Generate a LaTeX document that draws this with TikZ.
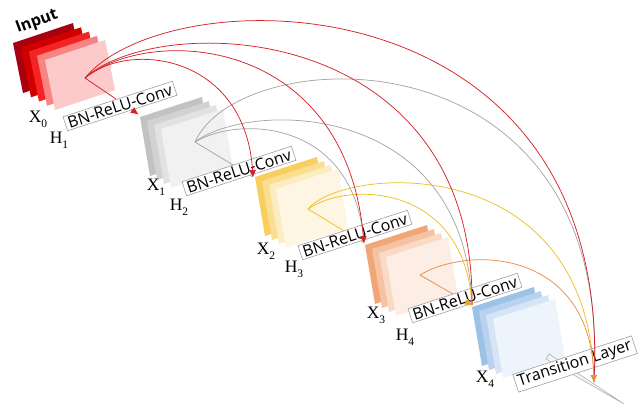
\documentclass[tikz,border=0pt]{standalone}
\usepackage{fontspec}
\setmainfont{Liberation Serif}
\newfontfamily\labelfont{Open Sans}
\usetikzlibrary{arrows.meta,calc}

% layer colours, back to front
\definecolor{rA}{HTML}{A8000E}
\definecolor{rB}{HTML}{D00000}
\definecolor{rC}{HTML}{F42424}
\definecolor{rD}{HTML}{F88484}
\definecolor{rE}{HTML}{FCCACA}
\definecolor{gA}{HTML}{C2C2C2}
\definecolor{gB}{HTML}{D2D2D2}
\definecolor{gC}{HTML}{E2E2E2}
\definecolor{gD}{HTML}{F1F1F1}
\definecolor{yA}{HTML}{F8CE5C}
\definecolor{yB}{HTML}{FADF92}
\definecolor{yC}{HTML}{FCECC2}
\definecolor{yD}{HTML}{FEF6E2}
\definecolor{oA}{HTML}{F0A676}
\definecolor{oB}{HTML}{F5C2A2}
\definecolor{oC}{HTML}{F9DAC6}
\definecolor{oD}{HTML}{FCEEE5}
\definecolor{bA}{HTML}{9CC2E8}
\definecolor{bB}{HTML}{B9D3EF}
\definecolor{bC}{HTML}{D5E5F6}
\definecolor{bD}{HTML}{EEF4FB}
% connector colours
\definecolor{cRed}{HTML}{D42228}
\definecolor{cGray}{HTML}{A6A6A6}
\definecolor{cYel}{HTML}{F0C020}
\definecolor{cOra}{HTML}{E88C48}
\definecolor{cTip}{HTML}{F5A020}

% a stack of sheared sheets: back corner (#1,#2), step (#3,#4),
% top edge (#5,#6), side edge (#7,#8), colours #9
\newcommand{\stackblock}[9]{%
  \foreach \c [count=\i from 0] in {#9} {
    \fill[\c] ({#1+\i*#3},{#2+\i*#4}) -- ++(#5,#6) -- ++(#7,#8)
      -- ++({-#5},{-#6}) -- cycle;
  }}

\tikzset{
  link/.style={line width=0.75pt},
  tipend/.style={-{Triangle[length=7pt,width=6.5pt]}},
  oplabel/.style={draw=gray!75, line width=0.6pt, fill=white, rotate=18,
    inner xsep=3pt, inner ysep=1.5pt, font=\labelfont\fontsize{16}{16}\selectfont},
  mapname/.style={font=\fontsize{17.5}{17.5}\selectfont, inner sep=0pt}
}

\newcommand{\mname}[2]{#1\raisebox{-5pt}{\fontsize{11.5}{11.5}\selectfont #2}}

\begin{document}
\begin{tikzpicture}[x=1pt,y=-1pt]
\useasboundingbox (0,0) rectangle (642,408);

% feature-map stacks
\stackblock{13}{43}{8}{4.25}{60}{-20}{10}{50}{rA,rB,rC,rD,rE}
\stackblock{140}{117}{7}{4}{62}{-20}{10}{59}{gA,gB,gC,gD}
\stackblock{255}{177}{7}{4}{62}{-20}{10}{59}{yA,yB,yC,yD}
\stackblock{365}{245}{7}{4}{62}{-20}{10}{59}{oA,oB,oC,oD}
\stackblock{472}{307}{7}{4}{62}{-20}{10}{59}{bA,bB,bC,bD}

% connection points
\coordinate (S0) at (85,78);
\coordinate (S1) at (195,142);
\coordinate (S2) at (308,209);
\coordinate (S3) at (420,275);
\coordinate (B1) at (138,114);
\coordinate (B2) at (253,177);
\coordinate (B3) at (364,243);
\coordinate (B4) at (472,305);
\coordinate (T) at (594,382);

% transition layer seen edge-on
\filldraw[draw=gray!70, fill=gray!8, line width=0.5pt]
  (549,354) -- (624,404) -- (546,359) -- cycle;

% direct links to the next stack
\draw[link, cRed] (S0) -- (B1);
\draw[link, cGray] (S1) -- (B2);
\draw[link, cYel] (S2) -- (B3);
\draw[link, cOra] (S3) -- (B4);

% operation labels
\node[oplabel] (L1) at (120,106) {BN-ReLU-Conv};
\node[oplabel] (L2) at (239,171) {BN-ReLU-Conv};
\node[oplabel] (L3) at (355,235) {BN-ReLU-Conv};
\node[oplabel] (L4) at (465,298) {BN-ReLU-Conv};
\node[oplabel] (L5) at (575,364) {Transition Layer};

% dense skip connections
\draw[link, cGray] (S1) .. controls (240,115) and (355,120) .. (B3);
\draw[link, cGray] (S1) .. controls (250,100) and (465,100) .. (B4);
\draw[link, cGray] (S1) .. controls (240,40) and (615,25) .. (T);
\draw[link, cYel] (S2) .. controls (350,180) and (465,185) .. (B4);
\draw[link, cYel] (S2) .. controls (345,165) and (590,150) .. (T);
\draw[link, cRed] (S0) .. controls (160,10) and (475,20) .. (B4);
\draw[link, cRed] (S0) .. controls (170,-25) and (615,-25) .. (T);
\draw[link, cRed, tipend] (S0) .. controls (130,40) and (245,55) .. (B2);
\draw[link, cRed, tipend] (S0) .. controls (150,25) and (345,35) .. (B3);
\draw[link, cOra, tipend] (S3) .. controls (470,245) and (590,250) .. (T);

% arrow heads of the direct links
\draw[link, cRed, tipend] ($(B1)!8pt!(S0)$) -- (B1);
\draw[link, cTip, tipend] ($(B4)!8pt!(S3)$) -- (B4);

% names
\node[font=\labelfont\bfseries\fontsize{16}{16}\selectfont, rotate=20, inner sep=0pt]
  (IN) at (37,22) {Input};
\node[mapname] (X0) at (38,119) {\mname{X}{0}};
\node[mapname] (H1) at (59,140) {\mname{H}{1}};
\node[mapname] (X1) at (156,187) {\mname{X}{1}};
\node[mapname] (H2) at (179,207) {\mname{H}{2}};
\node[mapname] (X2) at (266,251) {\mname{X}{2}};
\node[mapname] (H3) at (294,269) {\mname{H}{3}};
\node[mapname] (X3) at (376,315) {\mname{X}{3}};
\node[mapname] (H4) at (405,337) {\mname{H}{4}};
\node[mapname] (X4) at (485,379) {\mname{X}{4}};
\end{tikzpicture}
\end{document}
